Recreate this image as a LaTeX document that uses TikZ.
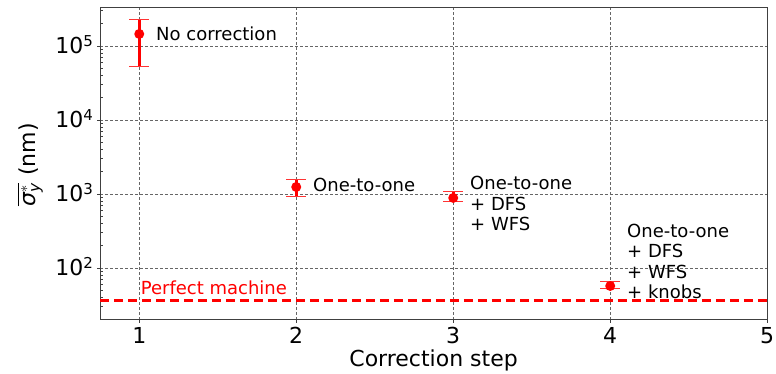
\documentclass[tikz,border=0pt]{standalone}
\usepackage{fontspec}
\usepackage{amsmath}
\setmainfont{DejaVu Sans}
\definecolor{gridGray}{gray}{0.4}
\definecolor{spineGray}{gray}{0.25}
\begin{document}
\begin{tikzpicture}[x=157pt, y=74pt,
        gridStyle/.style={gridGray, dash pattern=on 3pt off 2pt, line width=0.7pt},
        barStyle/.style={red, line width=3pt},
        capStyle/.style={red!80, line width=1pt},
        dotStyle/.style={circle, fill=red, inner sep=0pt, minimum size=10pt},
        noteStyle/.style={anchor=west, align=left, inner sep=0pt, font=\fontsize{18}{20.5}\selectfont},
        tickStyle/.style={inner sep=0pt, font=\fontsize{22}{26}\selectfont}]
    \useasboundingbox (0.113,0.567) rectangle (5.056,5.621);

    % grid
    \foreach \i in {1,...,4} \draw[gridStyle] (\i,1.297) -- (\i,5.513);
    \foreach \j in {2,...,5} \draw[gridStyle] (0.75,\j) -- (5,\j);

    % minor ticks of the log axis
    \begin{scope}
        \clip (0.75,1.297) rectangle (5,5.513);
        \foreach \j in {1,...,5}
            \foreach \k in {2,...,9}
                \draw[spineGray, line width=0.6pt] (0.75,{\j+log10(\k)}) -- ++(2.5pt,0);
    \end{scope}

    % frame and major ticks
    \draw[spineGray, line width=1pt] (0.75,1.297) rectangle (5,5.513);
    \foreach \i in {1,...,5} {
        \draw[spineGray, line width=0.8pt] (\i,1.297) -- ++(0,-3.5pt);
        \node[tickStyle, anchor=north] (x\i) at ([yshift=-7pt]\i,1.297) {\i};
    }
    \foreach \j in {2,...,5} {
        \draw[spineGray, line width=0.8pt] (0.75,\j) -- ++(-3.5pt,0);
        \node[tickStyle, anchor=base east] (y\j) at ([xshift=-7pt, yshift=-8pt]0.75,\j)
            {10\raisebox{7pt}{\fontsize{15}{15}\selectfont\j}};
    }

    % axis labels
    \node[tickStyle, anchor=base] (xlabel) at (2.875,0.662) {Correction step};
    \node[tickStyle, rotate=90] (ylabel) at (0.304,3.392)
        {$\overline{\text{\itshape σ}^{*}_{\text{\itshape y}}}$ (nm)};

    % perfect machine
    \coordinate (pmL) at (0.75,1.558);
    \coordinate (pmR) at (5,1.558);
    \draw[red, line width=3pt, dash pattern=on 9pt off 5pt] (pmL) -- (pmR);
    \node[noteStyle, anchor=base west, text=red] (pm) at (1.009,1.644) {Perfect machine};

    % error bars
    \coordinate (t1) at (1,5.351); \coordinate (b1) at (1,4.716);
    \coordinate (t2) at (2,3.189); \coordinate (b2) at (2,2.959);
    \coordinate (t3) at (3,3.027); \coordinate (b3) at (3,2.892);
    \coordinate (t4) at (4,1.811); \coordinate (b4) at (4,1.716);
    \foreach \p in {1,...,4} {
        \draw[barStyle] (t\p) -- (b\p);
        \draw[capStyle] ([xshift=-10pt]t\p) -- ([xshift=10pt]t\p);
        \draw[capStyle] ([xshift=-10pt]b\p) -- ([xshift=10pt]b\p);
    }

    % points
    \node[dotStyle] (p1) at (1,5.162) {};
    \node[dotStyle] (p2) at (2,3.094) {};
    \node[dotStyle] (p3) at (3,2.946) {};
    \node[dotStyle] (p4) at (4,1.756) {};

    % notes
    \node[noteStyle] (n1) at (1.107,5.162) {No correction};
    \node[noteStyle] (n2) at (2.107,3.121) {One-to-one};
    \node[noteStyle] (n3) at (3.107,2.871) {One-to-one\\+ DFS\\+ WFS};
    \node[noteStyle] (n4) at (4.107,2.088) {One-to-one\\+ DFS\\+ WFS\\+ knobs};
\end{tikzpicture}
\end{document}
